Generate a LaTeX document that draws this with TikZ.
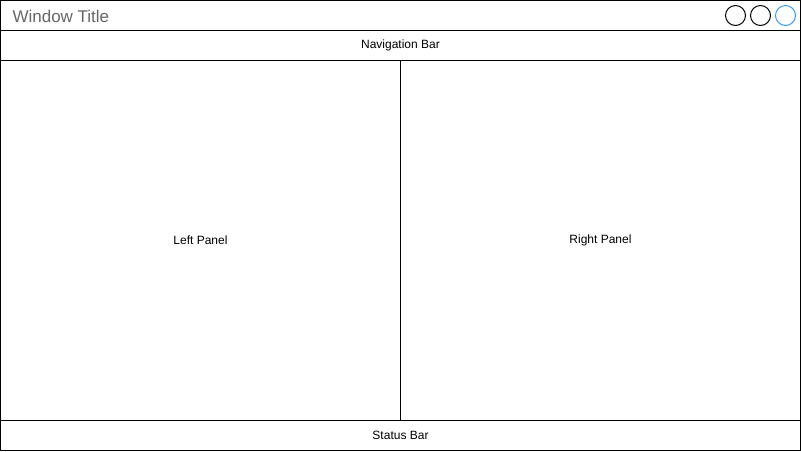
\documentclass[tikz,border=0pt]{standalone}
\usepackage{fontspec}
\setmainfont{Liberation Sans}
\definecolor{titlegray}{HTML}{666666}
\definecolor{btnblue}{HTML}{3399FF}
\begin{document}
\begin{tikzpicture}[x=1pt,y=-1pt,
  box/.style={draw=black,line width=1pt},
  lbl/.style={font=\fontsize{12}{14}\selectfont,text=black},
  btn/.style={draw=black,line width=1pt,circle,minimum size=20pt,inner sep=0pt}]
\useasboundingbox (0,0) rectangle (801,451);
\fill[white] (0,0) rectangle (801,451);
\draw[box] (0.5,0.5) rectangle (800.5,30.5);
\node[anchor=west,font=\fontsize{17}{20}\selectfont,text=titlegray] (title) at (9,16) {Window Title};
\node[btn] (b1) at (735.5,15.5) {};
\node[btn] (b2) at (760.5,15.5) {};
\node[btn,draw=btnblue] (b3) at (785.5,15.5) {};
\draw[box] (0.5,30.5) rectangle (800.5,60.5);
\node[lbl] (nav) at (400.5,45.5) {Navigation Bar};
\draw[box] (0.5,60.5) rectangle (400.5,420.5);
\node[lbl] (left) at (200.5,240.5) {Left Panel};
\draw[box] (400.5,60.5) rectangle (800.5,420.5);
\node[lbl] (right) at (600.5,240.5) {Right Panel};
\draw[box] (0.5,420.5) rectangle (800.5,450.5);
\node[lbl] (status) at (400.5,435.5) {Status Bar};
\end{tikzpicture}
\end{document}
